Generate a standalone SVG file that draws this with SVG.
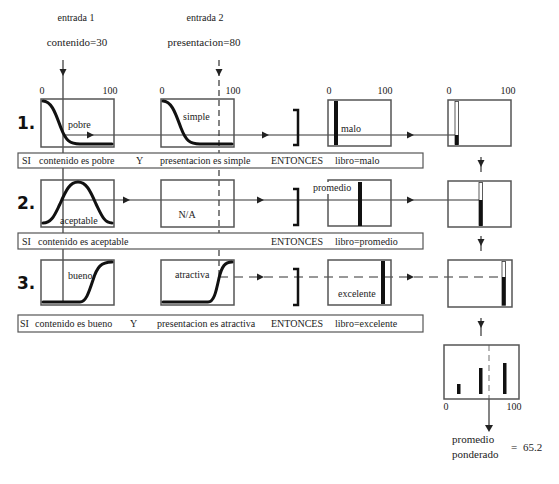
<svg xmlns="http://www.w3.org/2000/svg" width="559" height="484" viewBox="0 0 559 484" font-family="'Liberation Serif', 'DejaVu Serif', serif">
<style>
text{font-family:'Liberation Serif','DejaVu Serif',serif;fill:#222;font-size:10px}
.t11{font-size:11px}
text.num{font-family:'DejaVu Sans',sans-serif;font-weight:bold;font-size:17px;fill:#111}
.box{fill:none;stroke:#555;stroke-width:1.5}
.curve{fill:none;stroke:#111;stroke-width:3;stroke-linecap:round}
.ln{fill:none;stroke:#333;stroke-width:1.2}
.dash{fill:none;stroke:#333;stroke-width:1.2;stroke-dasharray:9 6}
.vdash{fill:none;stroke:#333;stroke-width:1.2;stroke-dasharray:6 4}
.rule{fill:#fff;stroke:#555;stroke-width:1.2}
.bar{fill:#111}
.obar{fill:#fff;stroke:#333;stroke-width:0.8}
.brk{fill:none;stroke:#111;stroke-width:2.5}
.head{fill:#222}
</style>
<defs>
<path id="ar" d="M-3,-3.5 L4,0 L-3,3.5 z"/>
<path id="ad" d="M-3.5,-3 L0,4 L3.5,-3 z"/>
</defs>

<g id="inputs">
<text x="76" y="21" text-anchor="middle">entrada 1</text>
<text x="77" y="46" text-anchor="middle" class="t11">contenido=30</text>
<text x="205" y="21" text-anchor="middle">entrada 2</text>
<text x="204" y="46" text-anchor="middle" class="t11">presentacion=80</text>
</g>

<g id="axes">
<text x="42" y="94" text-anchor="middle">0</text>
<text x="110" y="94" text-anchor="middle">100</text>
<text x="162" y="94" text-anchor="middle">0</text>
<text x="233" y="94" text-anchor="middle">100</text>
<text x="329" y="94" text-anchor="middle">0</text>
<text x="385" y="94" text-anchor="middle">100</text>
<text x="449" y="94" text-anchor="middle">0</text>
<text x="508" y="94" text-anchor="middle">100</text>
</g>

<g id="nums">
<text class="num" x="17" y="129">1.</text>
<text class="num" x="17" y="209">2.</text>
<text class="num" x="17" y="289">3.</text>
</g>

<g id="connectors">
<line class="ln" x1="63" y1="60" x2="63" y2="303"/>
<use href="#ad" x="63" y="72" class="head"/>
<line class="vdash" x1="219" y1="60" x2="219" y2="278"/>
<use href="#ad" x="219" y="72" class="head"/>

<line class="ln" x1="63" y1="135" x2="456" y2="135"/>
<use href="#ar" x="90" y="135" class="head"/>
<use href="#ar" x="265" y="135" class="head"/>
<use href="#ar" x="410" y="135" class="head"/>

<line class="ln" x1="63" y1="200" x2="480" y2="200"/>
<use href="#ar" x="126" y="200" class="head"/>
<use href="#ar" x="260" y="200" class="head"/>
<use href="#ar" x="410" y="200" class="head"/>

<line class="dash" x1="219" y1="277" x2="503" y2="277"/>
<use href="#ar" x="260" y="277" class="head"/>
<use href="#ar" x="410" y="277" class="head"/>

<line class="ln" x1="481" y1="157" x2="481" y2="172"/>
<use href="#ad" x="481" y="163" class="head"/>
<line class="ln" x1="481" y1="236" x2="481" y2="251"/>
<use href="#ad" x="481" y="242" class="head"/>
<line class="ln" x1="481" y1="318" x2="481" y2="336"/>
<use href="#ad" x="481" y="324" class="head"/>

<line x1="489" y1="345" x2="489" y2="399" stroke="#888" stroke-width="1.2" stroke-dasharray="6 4"/>
<line class="ln" x1="489" y1="399" x2="489" y2="426"/>
<path d="M485,425 L489,432 L493,425 z" class="head"/>
</g>

<g id="brackets">
<path class="brk" d="M293,110 L298,110 L298,145 L293,145"/>
<path class="brk" d="M293,189 L298,189 L298,225 L293,225"/>
<path class="brk" d="M293,269 L298,269 L298,305 L293,305"/>
</g>

<g id="r1-contenido">
<rect class="box" x="41" y="99" width="73" height="48"/>
<path class="curve" d="M43,101 C52,101 56,115 61,128 C66,141 70,144 80,144 L112,144"/>
<text x="68" y="128">pobre</text>
</g>
<g id="r1-presentacion">
<rect class="box" x="161" y="99" width="73" height="48"/>
<path class="curve" d="M163,101 C172,101 176,115 181,128 C186,141 190,144 200,144 L232,144"/>
<text x="183" y="120">simple</text>
</g>
<g id="r1-malo">
<rect class="box" x="328" y="100" width="63" height="46"/>
<rect class="bar" x="334" y="101" width="4" height="44"/>
<text x="341" y="132">malo</text>
</g>
<g id="r1-out">
<rect class="box" x="448" y="100" width="63" height="46"/>
<rect class="obar" x="455" y="101.5" width="3.5" height="43"/>
<rect class="bar" x="455" y="135" width="3.5" height="10"/>
</g>

<g id="r2-contenido">
<rect class="box" x="41" y="180" width="73" height="47"/>
<path class="curve" d="M43,223 C52,223 55,214 60,204 C66,190 70,182 78,182 C86,182 90,190 96,204 C101,214 104,223 112,223"/>
<text x="60" y="224">aceptable</text>
</g>
<g id="r2-presentacion">
<rect class="box" x="161" y="180" width="73" height="47"/>
<text x="187" y="218" text-anchor="middle">N/A</text>
</g>
<g id="r2-promedio">
<rect class="box" x="328" y="180" width="63" height="46"/>
<rect class="bar" x="358" y="182" width="4" height="44"/>
<rect x="312" y="182" width="43" height="12" fill="#fff"/>
<text x="313" y="191">promedio</text>
</g>
<g id="r2-out">
<rect class="box" x="448" y="181" width="63" height="46"/>
<rect class="obar" x="479" y="182.5" width="3.5" height="43"/>
<rect class="bar" x="479" y="200" width="3.5" height="26"/>
</g>

<g id="r3-contenido">
<rect class="box" x="41" y="260" width="73" height="45"/>
<path class="curve" d="M43,302 L80,302 C86,302 89,292 93,280 C97,267 101,262 112,262"/>
<text x="68" y="279">bueno</text>
</g>
<g id="r3-presentacion">
<rect class="box" x="161" y="260" width="73" height="45"/>
<path class="curve" d="M163,302 L208,302 C214,302 216,292 219,278 C222,266 225,262 232,262"/>
<text x="175" y="278">atractiva</text>
</g>
<g id="r3-excelente">
<rect class="box" x="328" y="260" width="63" height="45"/>
<rect class="bar" x="381" y="261" width="4" height="43"/>
<text x="338" y="297">excelente</text>
</g>
<g id="r3-out">
<rect class="box" x="448" y="260" width="64" height="47"/>
<rect class="obar" x="502" y="261.5" width="3.5" height="44"/>
<rect class="bar" x="502" y="277" width="3.5" height="28"/>
</g>

<g id="rule1">
<rect class="rule" x="18" y="153" width="405" height="15"/>
<text x="22" y="164">SI</text>
<text x="39" y="164">contenido es pobre</text>
<text x="136" y="164">Y</text>
<text x="160" y="164">presentacion es simple</text>
<text x="271" y="164">ENTONCES</text>
<text x="335" y="164">libro=malo</text>
</g>
<g id="rule2">
<rect class="rule" x="18" y="233" width="405" height="16"/>
<text x="22" y="245">SI</text>
<text x="38" y="245">contenido es aceptable</text>
<text x="271" y="245">ENTONCES</text>
<text x="335" y="245">libro=promedio</text>
</g>
<g id="rule3">
<rect class="rule" x="18" y="315" width="405" height="17"/>
<text x="20" y="327">SI</text>
<text x="35" y="327">contenido es bueno</text>
<text x="130" y="327">Y</text>
<text x="157" y="327">presentacion es atractiva</text>
<text x="271" y="327">ENTONCES</text>
<text x="335" y="327">libro=excelente</text>
</g>

<g id="aggregate">
<rect class="box" x="444" y="345" width="75" height="54"/>
<rect class="bar" x="457" y="384" width="3.5" height="10"/>
<rect class="bar" x="479" y="368" width="3.5" height="26"/>
<rect class="bar" x="503" y="363" width="3.5" height="31"/>
<text x="446" y="410" text-anchor="middle">0</text>
<text x="514" y="410" text-anchor="middle">100</text>
</g>
<g id="result">
<text x="452" y="443" class="t11">promedio</text>
<text x="452" y="458" class="t11">ponderado</text>
<text x="511" y="451" class="t11">=</text>
<text x="523" y="451" class="t11">65.2</text>
</g>
</svg>
